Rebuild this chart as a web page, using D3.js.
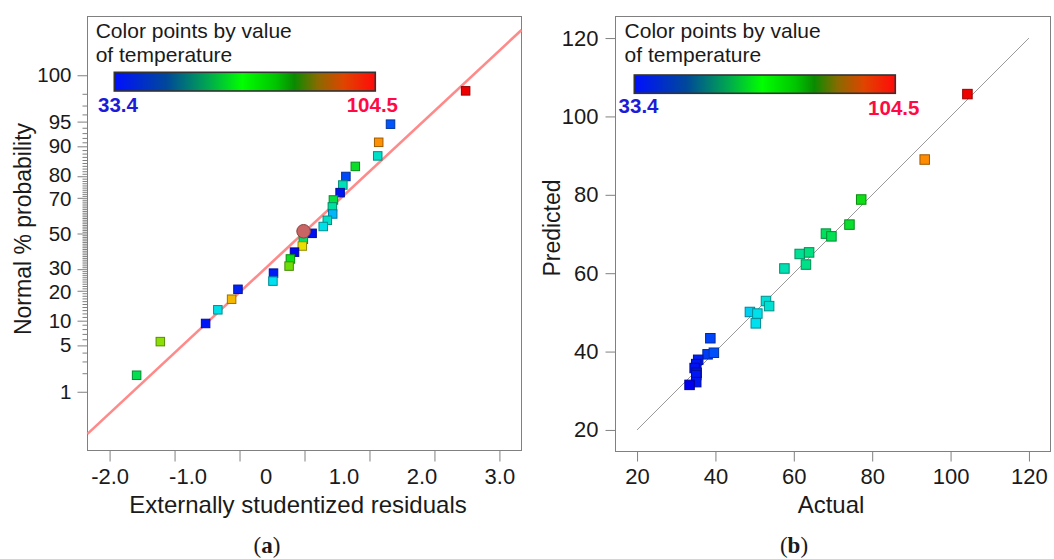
<!DOCTYPE html>
<html><head><meta charset="utf-8">
<script src="https://cdn.jsdelivr.net/npm/d3@7"></script>
<style>
body{margin:0;background:#fff}
svg{display:block}
text{font-family:"Liberation Sans",Arial,Helvetica,sans-serif;fill:#1a1a1a}
</style></head>
<body><svg id="chart" width="1054" height="559"></svg>
<script>
// ---------------- data ----------------
// (a) normal probability plot: externally studentized residuals vs normal % probability
const residuals     = [1.142, 1.127, 0.782, 0.637, 0.590, 0.548, 0.445, 0.429, 0.434, 0.351, 0.288, 0.117, -0.018, -0.034, -0.154, -0.217, -0.237, -0.477, -0.486, -1.024, -1.122, -1.334, -1.522, -2.219, -2.584, 1.324, 2.480];
const probabilities = [91.0, 87.3, 83.8, 79.9, 76.2, 72.6, 68.9, 65.2, 61.3, 57.7, 54.1, 50.1, 46.6, 42.7, 39.2, 35.4, 31.6, 28.0, 24.2, 20.6, 16.7, 13.1, 9.3, 5.6, 1.86, 94.6, 98.2];
const residualTemps = [93, 55, 75, 39, 57, 35, 72, 60, 47, 55, 51, 34.5, 67, 85, 34, 77, 81, 35.5, 50, 36, 89, 51, 35, 82, 70, 40, 104.5];
const highlightResidual = -0.014;
const highlightProb = 51.3;
const fitMean = -0.026;   // normal line: z = (r - mean) / sd
const fitSd = 1.125;
const residualTickValues = [-3, -2, -1, 0, 1, 2, 3];
const residualTickLabels = [-2, -1, 0, 1, 2, 3];
const probTicks = [1, 5, 10, 20, 30, 50, 70, 80, 90, 95, 99];
const probTickLabels = ["1", "5", "10", "20", "30", "50", "70", "80", "90", "95", "100"];
const probMinorTicks = d3.range(2, 99).filter(p => !probTicks.includes(p));

// (b) predicted vs actual
const actual    = [104.3, 93.4, 77.2, 74.2, 68.2, 69.6, 61.5, 63.9, 63.1, 57.6, 52.9, 53.7, 48.8, 50.7, 50.3, 38.7, 38.0, 39.6, 35.6, 35.1, 34.7, 35.2, 35.1, 35.1, 33.4];
const predicted = [105.7, 89.0, 78.8, 72.4, 70.1, 69.4, 64.9, 65.3, 62.2, 61.2, 52.9, 51.6, 50.1, 49.7, 47.2, 43.4, 39.3, 39.7, 37.9, 36.8, 35.8, 34.6, 34.0, 32.2, 31.5];
const axisTicks = [20, 40, 60, 80, 100, 120];
const diagonal = [20, 120];

// colour legend
const tempRange = [33.4, 104.5];
const legendTitle = ["Color points by value", "of temperature"];

// ---------------- helpers ----------------
function probit(p) {
  const a=[-3.969683028665376e+01,2.209460984245205e+02,-2.759285104469687e+02,1.383577518672690e+02,-3.066479806614716e+01,2.506628277459239e+00];
  const b=[-5.447609879822406e+01,1.615858368580409e+02,-1.556989798598866e+02,6.680131188771972e+01,-1.328068155288572e+01];
  const c=[-7.784894002430293e-03,-3.223964580411365e-01,-2.400758277161838e+00,-2.549732539343734e+00,4.374664141464968e+00,2.938163982698783e+00];
  const d=[7.784695709041462e-03,3.224671290700398e-01,2.445134137142996e+00,3.754408661907416e+00];
  const pl=0.02425, ph=1-pl; let q, r;
  if (p < pl) { q=Math.sqrt(-2*Math.log(p)); return (((((c[0]*q+c[1])*q+c[2])*q+c[3])*q+c[4])*q+c[5])/((((d[0]*q+d[1])*q+d[2])*q+d[3])*q+1); }
  if (p <= ph) { q=p-0.5; r=q*q; return (((((a[0]*r+a[1])*r+a[2])*r+a[3])*r+a[4])*r+a[5])*q/(((((b[0]*r+b[1])*r+b[2])*r+b[3])*r+b[4])*r+1); }
  q=Math.sqrt(-2*Math.log(1-p)); return -(((((c[0]*q+c[1])*q+c[2])*q+c[3])*q+c[4])*q+c[5])/((((d[0]*q+d[1])*q+d[2])*q+d[3])*q+1);
}

const pointColor = d3.scaleLinear()
  .domain([33.4, 42, 50, 60, 68, 78, 85, 93, 104.5])
  .range(["#0000f0","#0070ff","#00e0f0","#00e0a0","#00e060","#10dd10","#e8e000","#ff9000","#ee0000"])
  .clamp(true);

const legendStops = [
  [0, "#0010ff"], [0.2, "#00489a"], [0.36, "#00a850"], [0.49, "#00ff00"],
  [0.62, "#00c400"], [0.69, "#0a8a00"], [0.78, "#8a6a00"], [0.88, "#e04400"], [1, "#ff0a0a"]
];

const svg = d3.select("#chart");
const FRAME = "#808080";

const defs = svg.append("defs");
const grad = defs.append("linearGradient").attr("id", "tempGrad").attr("x1", "0%").attr("x2", "100%");
legendStops.forEach(s => grad.append("stop").attr("offset", s[0]).attr("stop-color", s[1]));

function legend(g, x, y, barX, barY, barW, barH, loX, loY, hiX, hiY) {
  g.append("text").attr("x", x).attr("y", y).style("font-size", "21px").text(legendTitle[0]);
  g.append("text").attr("x", x).attr("y", y + 24).style("font-size", "21px").text(legendTitle[1]);
  g.append("rect").attr("x", barX).attr("y", barY).attr("width", barW).attr("height", barH)
    .attr("fill", "url(#tempGrad)").attr("stroke", "#333").attr("stroke-width", 1.6);
  g.append("text").attr("x", loX).attr("y", loY).style("font-size", "20.5px").style("font-weight", "bold")
    .style("fill", "#1c1cd8").text(tempRange[0]);
  g.append("text").attr("x", hiX).attr("y", hiY).attr("text-anchor", "end").style("font-size", "20.5px")
    .style("font-weight", "bold").style("fill", "#ff0a45").text(tempRange[1]);
}

function styleAxis(g, size) {
  g.select(".domain").remove();
  g.selectAll(".tick line").attr("stroke", FRAME);
  g.selectAll(".tick text").style("font-size", (size || 22) + "px").style("fill", "#1a1a1a")
    .attr("font-family", null);
}

// ---------------- panel (a) ----------------
const xR = d3.scaleLinear().domain([-3.34, 3.34]).range([87.5, 521.5]);
const yZ = d3.scaleLinear().domain([-3.19, 3.19]).range([450.5, 16.5]);
const xLab = d3.scaleLinear().domain([residualTickLabels[0], residualTickLabels[residualTickLabels.length - 1]])
  .range([xR(residualTickValues[0]), xR(residualTickValues[residualTickValues.length - 1])]);

const ga = svg.append("g");
ga.append("rect").attr("x", 87.5).attr("y", 16.5).attr("width", 434).attr("height", 434)
  .attr("fill", "none").attr("stroke", FRAME);

// y axis: major + minor
ga.append("g").attr("transform", "translate(87.5,0)")
  .call(d3.axisLeft(yZ).tickValues(probMinorTicks.map(p => probit(p / 100))).tickSize(5).tickFormat(""))
  .call(styleAxis);
const yMajor = ga.append("g").attr("transform", "translate(87.5,0)")
  .call(d3.axisLeft(yZ).tickValues(probTicks.map(p => probit(p / 100))).tickSize(10).tickPadding(6)
    .tickFormat((d, i) => probTickLabels[i]))
  .call(g => styleAxis(g, 20.5));
// separate the tightly packed label pairs (80 over 70, 30 over 20) slightly so they do not collide
yMajor.selectAll(".tick text").attr("dy", (d, i) => {
  const lab = probTickLabels[i];
  if (lab === "80" || lab === "30") return "0.25em";
  if (lab === "70" || lab === "20") return "0.39em";
  return "0.32em";
});

// x axis: tick marks and labels
ga.append("g").attr("transform", "translate(0,450.5)")
  .call(d3.axisBottom(xR).tickValues(residualTickValues).tickSize(11).tickFormat(""))
  .call(styleAxis);
ga.append("g").attr("transform", "translate(0,450.5)")
  .call(d3.axisBottom(xLab).tickValues(residualTickLabels).tickSize(0).tickPadding(18)
    .tickFormat(d => d === 0 ? "0" : d.toFixed(1)))
  .call(styleAxis);

// normal line
const lineA = d3.line().x(d => xR(d)).y(d => yZ((d - fitMean) / fitSd));
ga.append("path").datum(xR.domain()).attr("d", lineA)
  .attr("fill", "none").attr("stroke", "#ff8a8a").attr("stroke-width", 2.6);

legend(ga, 95.7, 38.3, 114.3, 72.3, 261, 18.7, 98, 111.7, 398, 112);

const sqA = 8.5;
ga.append("g").selectAll("rect").data(residuals.map((r, i) => ({r, p: probabilities[i], t: residualTemps[i]})))
  .join("rect")
  .attr("x", d => xR(d.r) - sqA / 2).attr("y", d => yZ(probit(d.p / 100)) - sqA / 2)
  .attr("width", sqA).attr("height", sqA)
  .attr("fill", d => pointColor(d.t))
  .attr("stroke", d => d3.color(pointColor(d.t)).darker(1.3)).attr("stroke-width", 1);

ga.append("circle").attr("cx", xR(highlightResidual)).attr("cy", yZ(probit(highlightProb / 100))).attr("r", 6.8)
  .attr("fill", "#c86464").attr("stroke", "#8a4040").attr("stroke-width", 1);

ga.append("text").attr("transform", "translate(31,229) rotate(-90)").attr("text-anchor", "middle")
  .style("font-size", "23px").text("Normal % probability");
ga.append("text").attr("x", 298).attr("y", 513).attr("text-anchor", "middle")
  .style("font-size", "24px").text("Externally studentized residuals");
const capA = ga.append("text").attr("x", 267).attr("y", 553).attr("text-anchor", "middle")
  .style("font-size", "23px").style("font-family", "'Liberation Serif','Times New Roman',serif");
capA.append("tspan").text("(");
capA.append("tspan").style("font-weight", "bold").text("a");
capA.append("tspan").text(")");

// ---------------- panel (b) ----------------
const xA = d3.scaleLinear().domain([14.5, 125.5]).range([615.5, 1050.5]);
const yA = d3.scaleLinear().domain([14.5, 125.5]).range([451.5, 16.5]);
const gb = svg.append("g");
gb.append("rect").attr("x", 615.5).attr("y", 16.5).attr("width", 435).attr("height", 435)
  .attr("fill", "none").attr("stroke", FRAME);
gb.append("g").attr("transform", "translate(615.5,0)")
  .call(d3.axisLeft(yA).tickValues(axisTicks).tickSize(10).tickPadding(7).tickFormat(d3.format("d")))
  .call(styleAxis);
gb.append("g").attr("transform", "translate(0,451.5)")
  .call(d3.axisBottom(xA).tickValues(axisTicks).tickSize(10).tickPadding(7).tickFormat(d3.format("d")))
  .call(styleAxis);

gb.append("path").datum(diagonal).attr("d", d3.line().x(d => xA(d)).y(d => yA(d)))
  .attr("fill", "none").attr("stroke", "#9a9a9a").attr("stroke-width", 1);

legend(gb, 624.6, 38.3, 634.3, 75, 261, 18.3, 618.6, 113, 919.4, 115);

const sqB = 9.5;
gb.append("g").selectAll("rect").data(actual.map((a, i) => ({a, p: predicted[i]})))
  .join("rect")
  .attr("x", d => xA(d.a) - sqB / 2).attr("y", d => yA(d.p) - sqB / 2)
  .attr("width", sqB).attr("height", sqB)
  .attr("fill", d => pointColor(d.a))
  .attr("stroke", d => d3.color(pointColor(d.a)).darker(1.3)).attr("stroke-width", 1);

gb.append("text").attr("transform", "translate(560,228) rotate(-90)").attr("text-anchor", "middle")
  .style("font-size", "23px").text("Predicted");
gb.append("text").attr("x", 831).attr("y", 513).attr("text-anchor", "middle")
  .style("font-size", "24px").text("Actual");
const capB = gb.append("text").attr("x", 794).attr("y", 553).attr("text-anchor", "middle")
  .style("font-size", "23px").style("font-family", "'Liberation Serif','Times New Roman',serif");
capB.append("tspan").text("(");
capB.append("tspan").style("font-weight", "bold").text("b");
capB.append("tspan").text(")");
</script>
</body></html>
